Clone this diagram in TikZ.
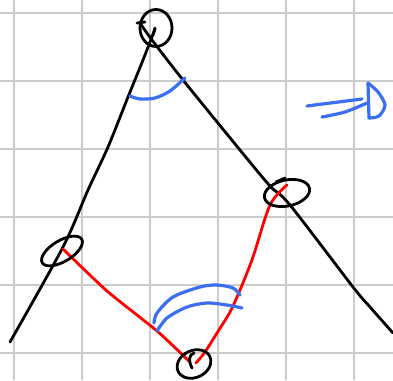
\documentclass[tikz,border=0pt]{standalone}
\begin{document}
\begin{tikzpicture}[x=1pt,y=-1pt,
  gridline/.style={draw=black!20,line width=2pt},
  ink/.style={draw=black,line width=2.8pt,line cap=round,line join=round},
  redink/.style={draw=red,line width=2.8pt,line cap=round,line join=round},
  blueink/.style={draw=bluepen,line width=3.2pt,line cap=round,line join=round}]
\definecolor{bluepen}{RGB}{59,110,242}
\useasboundingbox (0,0) rectangle (393,380);
\fill[white] (0,0) rectangle (393,380);
% grid
\foreach \gx in {13.5,81.5,149.5,217.5,285.5,353.5}
  \draw[gridline] (\gx,0) -- (\gx,380);
\foreach \gy in {12.5,80.5,148.5,216.5,284.5,352.5}
  \draw[gridline] (0,\gy) -- (393,\gy);
% named vertices
\coordinate (top) at (156,28);
\coordinate (rgt) at (287,193);
\coordinate (lft) at (62,251);
\coordinate (bot) at (194,364);
% black sides
\draw[ink] plot[smooth,tension=0.5] coordinates {(155,29) (143,60) (128,97) (108,147) (88,190) (63,247) (10,342)};
\draw[ink] plot[smooth,tension=0.5] coordinates {(140,23) (152,40) (183,80) (240,150) (270,186) (290,205) (353,287) (370,307) (393,333)};
% red path
\draw[redink] plot[smooth,tension=0.4] coordinates {(63,249) (107,291) (157,331) (190,362)};
\draw[redink] plot[smooth,tension=0.5] coordinates {(196,363) (205,352) (217,333) (230,312) (240,290) (253,257) (270,205) (287,185)};
% circles at vertices
\draw[ink] (top) ellipse[x radius=16,y radius=18.5];
\draw[ink] (137,23) -- (145,22);
\draw[ink] (155,28) -- (153,35);
\draw[ink,rotate around={12:(rgt)}] (rgt) ellipse[x radius=23,y radius=13];
\draw[ink] (276,182) -- (285,178);
\draw[ink,rotate around={31:(lft)}] (lft) ellipse[x radius=23,y radius=10.5];
\draw[ink,rotate around={25:(bot)}] (bot) ellipse[x radius=17.5,y radius=13.5];
\draw[ink] (192,368) .. controls (188,360) and (189,355) .. (194,353);
% blue angle marks
\draw[blueink] plot[smooth] coordinates {(130,96) (140,99) (155,98) (170,91) (185,78)};
\draw[blueink] plot[smooth] coordinates {(154,323) (157,313) (173,297) (200,287) (217,285) (233,288) (240,295)};
\draw[blueink] plot[smooth] coordinates {(157,331) (167,318) (187,307) (207,303) (227,305) (242,308)};
% blue arrow
\draw[blueink] (307,106) -- (362,99);
\draw[blueink] plot[smooth] coordinates {(322,117) (345,112) (367,103)};
\draw[blueink] (368,83) -- (369,118);
\draw[blueink] plot[smooth] coordinates {(368,83) (378,92) (385,105) (379,116) (369,118)};
\end{tikzpicture}
\end{document}
